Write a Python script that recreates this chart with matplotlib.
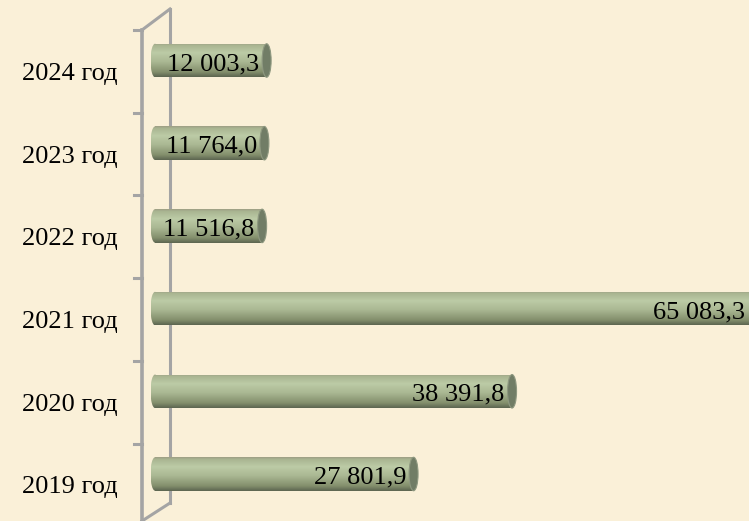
import numpy as np
import matplotlib
matplotlib.use('Agg')
import matplotlib.pyplot as plt
from matplotlib import transforms
from matplotlib.patches import Ellipse
from matplotlib.lines import Line2D
from matplotlib.colors import LinearSegmentedColormap

# data
years = ['2019 год', '2020 год', '2021 год', '2022 год', '2023 год', '2024 год']
values = [27801.9, 38391.8, 65083.3, 11516.8, 11764.0, 12003.3]
value_labels = ['27 801,9', '38 391,8', '65 083,3', '11 516,8', '11 764,0', '12 003,3']

W, H = 749, 521
bg = '#faf0d8'
axis_col = '#a4a4a4'
plt.rcParams['font.family'] = ['Liberation Serif', 'DejaVu Serif']

fig = plt.figure(figsize=(W / 100, H / 100), dpi=100, facecolor=bg)
ax = fig.add_axes([0, 0, 1, 1])
ax.set_facecolor(bg)
ax.axis('off')

# pixel scale: x0 at 155 px, 0.0093 px per unit; category step 82.7 px
x_per_px = 1 / 0.0093
xlim = (-155 * x_per_px, (W - 155) * x_per_px)
ylim = ((474 - H) / 82.7, 474 / 82.7)

def fpx(x, y):
    return x / W, 1 - y / H

# back wall line and top/bottom diagonals (behind bars)
for (x1, y1), (x2, y2) in [((170, 9), (170, 503)), ((142, 30), (170, 9)),
                           ((170, 503), (142, 521))]:
    a, b = fpx(x1, y1), fpx(x2, y2)
    ax.add_line(Line2D([a[0], b[0]], [a[1], b[1]], color=axis_col, lw=2.2,
                       transform=fig.transFigure, zorder=1))

# cylinder gradient (top -> bottom)
cyl = LinearSegmentedColormap.from_list('cyl', [
    (0.0, '#9e9f84'), (0.06, '#a9b591'), (0.28, '#bccba6'), (0.55, '#aab893'),
    (0.85, '#84906d'), (1.0, '#5d6651')])
grad = np.linspace(0, 1, 100).reshape(-1, 1)

bar_h = 0.405
cap_w = 9 * x_per_px
ypos = np.arange(len(years))

bars = ax.barh(ypos, values, height=bar_h, color='none', edgecolor='none', zorder=3)
for i, (rect, v) in enumerate(zip(bars, values)):
    y0, y1 = i - bar_h / 2, i + bar_h / 2
    im = ax.imshow(grad, cmap=cyl, aspect='auto', origin='upper',
                   extent=(0, v, y0, y1), zorder=3, interpolation='bilinear')
    im.set_clip_path(rect)
    left = Ellipse((0, i), cap_w, bar_h, facecolor='none', edgecolor='none', zorder=3)
    ax.add_patch(left)
    im2 = ax.imshow(grad, cmap=cyl, aspect='auto', origin='upper',
                    extent=(-cap_w / 2, cap_w / 2, y0, y1), zorder=3,
                    interpolation='bilinear')
    im2.set_clip_path(left)
    ax.add_patch(Ellipse((v, i), cap_w, bar_h, facecolor='#717d66',
                         edgecolor='#8e9880', lw=0.8, zorder=4))

# value labels
for i, (v, lab) in enumerate(zip(values, value_labels)):
    xt = min(v - 0.6 * cap_w - 2 * x_per_px, (745 - 155) * x_per_px)
    ax.text(xt, i, lab, ha='right', va='center_baseline', fontsize=19,
            color='black', zorder=5,
            transform=transforms.offset_copy(ax.transData, fig=fig, y=-1, units='dots'))

# front axis with ticks
a, b = fpx(142, 30), fpx(142, H + 5)
ax.add_line(Line2D([a[0], b[0]], [a[1], b[1]], color=axis_col, lw=2.6,
                   transform=fig.transFigure, zorder=6))
for k in range(len(years) + 1):
    ty = 30 + 82.7 * k
    a, b = fpx(134, ty), fpx(142, ty)
    ax.add_line(Line2D([a[0], b[0]], [a[1], b[1]], color=axis_col, lw=2.2,
                       transform=fig.transFigure, zorder=6))

# category labels (front plane, offset below bar centers)
blend = transforms.blended_transform_factory(fig.transFigure, ax.transData)
lab_tr = transforms.offset_copy(blend, fig=fig, y=-11, units='dots')
for i, yr in enumerate(years):
    ax.text(118 / W, i, yr, ha='right', va='center_baseline', fontsize=19,
            color='black', transform=lab_tr)

ax.set_xlim(xlim)
ax.set_ylim(ylim)

fig.savefig('out.png', dpi=100, facecolor=bg)
